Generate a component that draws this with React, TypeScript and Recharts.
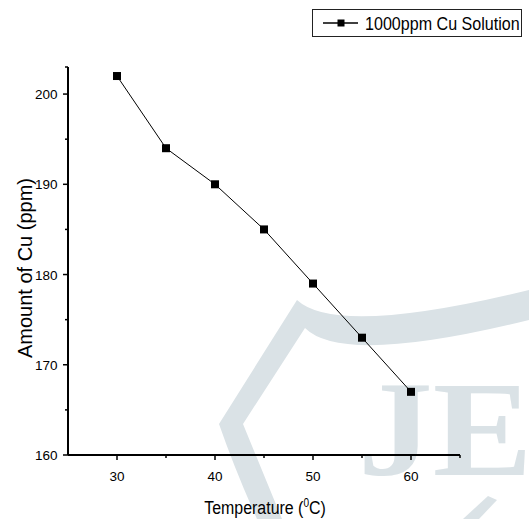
import React from 'react';
import { LineChart, Line, XAxis, YAxis, Legend, Label } from 'recharts';

const temperatures = [30, 35, 40, 45, 50, 55, 60];
const cuAmounts = [202, 194, 190, 185, 179, 173, 167];
const xTicks = [30, 35, 40, 45, 50, 55, 60, 65];
const xLabelled = [30, 40, 50, 60];
const yTicks = [160, 165, 170, 175, 180, 185, 190, 195, 200, 203];
const yLabelled = [160, 170, 180, 190, 200];
const seriesName = '1000ppm Cu Solution';

const data = temperatures.map((t, i) => ({ t, cu: cuAmounts[i] }));

const FONT = '"Liberation Sans", Arial, sans-serif';
const WM = '#dae2e6';

const XTick = (props: any) => {
  const { x, y, payload } = props;
  const major = xLabelled.includes(payload.value);
  return (
    <g>
      <line x1={x} y1={y} x2={x} y2={y + (major ? 5 : 3)} stroke="#000" strokeWidth={1.5} />
      {major && (
        <text x={x} y={y + 25.5} textAnchor="middle" fontSize={13.5} fontFamily={FONT} fill="#000">
          {payload.value}
        </text>
      )}
    </g>
  );
};

const YTick = (props: any) => {
  const { x, y, payload } = props;
  const major = yLabelled.includes(payload.value);
  return (
    <g>
      <line x1={x} y1={y} x2={x - (major ? 5 : 3)} y2={y} stroke="#000" strokeWidth={1.5} />
      {major && (
        <text x={x - 10.5} y={y + 5} textAnchor="end" fontSize={13.5} fontFamily={FONT} fill="#000">
          {payload.value}
        </text>
      )}
    </g>
  );
};

const SquareDot = (p: any) => (
  <rect key={`d${p.index}`} x={p.cx - 4} y={p.cy - 4} width={8} height={8} fill="#000" />
);

const LegendBox = () => (
  <svg width={211} height={29} style={{ display: 'block' }}>
    <rect x={0.5} y={0.5} width={209} height={27} fill="#fff" stroke="#222" strokeWidth={1} />
    <line x1={11} y1={14} x2={46} y2={14} stroke="#000" strokeWidth={1.3} />
    <rect x={25.5} y={10.5} width={7} height={7} fill="#000" />
    <g transform="translate(53 21) scale(0.87 1)">
      <text x={0} y={0} fontSize={18.5} fontFamily={FONT} fill="#000">
        {seriesName}
      </text>
    </g>
  </svg>
);

const XTitle = (props: any) => {
  const vb = props.viewBox;
  const cx = vb.x + vb.width / 2 + 1;
  const by = vb.y + 59;
  return (
    <g transform={`translate(${cx} ${by}) scale(0.84 1)`}>
      <text x={0} y={0} textAnchor="middle" fontSize={19} fontFamily={FONT} fill="#000">
        Temperature (<tspan dy={-7} fontSize={12}>0</tspan><tspan dy={7}>C)</tspan>
      </text>
    </g>
  );
};

const YTitle = (props: any) => {
  const vb = props.viewBox;
  const cx = vb.x + 17;
  const cy = vb.y + vb.height / 2 + 7;
  return (
    <text x={cx} y={cy} transform={`rotate(-90 ${cx} ${cy})`} textAnchor="middle" dominantBaseline="central"
      fontSize={19.5} fontFamily={FONT} fill="#000" textLength={180} lengthAdjust="spacingAndGlyphs">
      Amount of Cu (ppm)
    </text>
  );
};

const Watermark = () => (
  <svg width={529} height={519} style={{ position: 'absolute', left: 0, top: 0 }}>
    <path
      d="M297,300 Q337,337 529,290 L529,320 Q343,366 305,328 L243,424 L282,519 L257,519 Q235,470 219,424 Z"
      fill={WM}
    />
    <path d="M463,519 L488,496 L497,500 L479,519 Z" fill={WM} />
    <g transform="translate(358 475) scale(1.1 1)">
      <text x={0} y={0} fontSize={136} fontWeight="bold"
        fontFamily='"Liberation Serif", "Times New Roman", serif' fill={WM}>
        JE
      </text>
    </g>
  </svg>
);

export default function App() {
  return (
    <div style={{ position: 'absolute', left: 0, top: 0, width: 529, height: 519, background: '#fff', overflow: 'hidden' }}>
      <Watermark />
      <div style={{ position: 'absolute', left: 0, top: 0 }}>
        <LineChart width={529} height={519} data={data} margin={{ top: 67, right: 69, bottom: 4, left: 8 }}>
          <XAxis
            dataKey="t"
            type="number"
            domain={[25, 65]}
            ticks={xTicks}
            interval={0}
            height={60}
            tickSize={0}
            tickMargin={0}
            tickLine={false}
            tick={<XTick />}
            stroke="#000"
            axisLine={{ stroke: '#000', strokeWidth: 2 }}
          >
            <Label content={<XTitle />} />
          </XAxis>
          <YAxis
            type="number"
            domain={[160, 203]}
            ticks={yTicks}
            interval={0}
            width={60}
            tickSize={0}
            tickMargin={0}
            tickLine={false}
            tick={<YTick />}
            stroke="#000"
            axisLine={{ stroke: '#000', strokeWidth: 2 }}
          >
            <Label content={<YTitle />} />
          </YAxis>
          <Legend
            layout="horizontal"
            verticalAlign="middle"
            align="center"
            content={<LegendBox />}
            wrapperStyle={{ position: 'absolute', left: 312, top: 9, width: 211, height: 29 }}
          />
          <Line
            type="linear"
            dataKey="cu"
            name={seriesName}
            stroke="#000"
            strokeWidth={1}
            dot={SquareDot}
            activeDot={false}
            isAnimationActive={false}
          />
        </LineChart>
      </div>
    </div>
  );
}
